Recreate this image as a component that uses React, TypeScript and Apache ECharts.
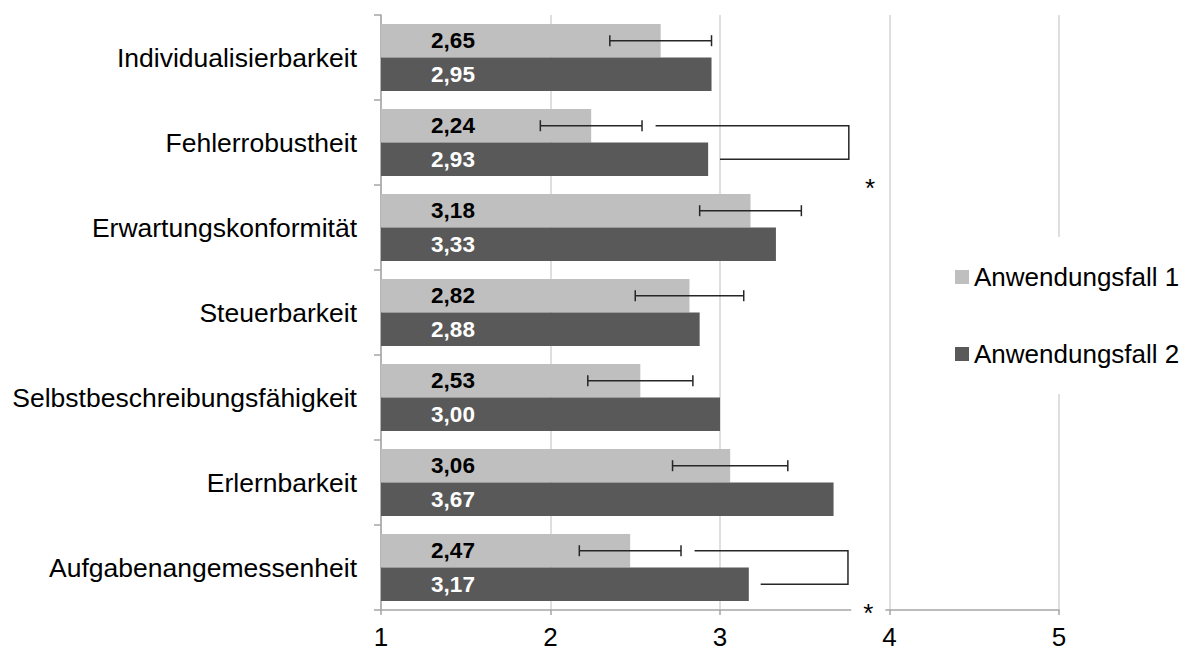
import React, { useEffect, useRef } from "react";
import * as echarts from "echarts";

const categories = [
  "Individualisierbarkeit",
  "Fehlerrobustheit",
  "Erwartungskonformität",
  "Steuerbarkeit",
  "Selbstbeschreibungsfähigkeit",
  "Erlernbarkeit",
  "Aufgabenangemessenheit",
];
const seriesNames = ["Anwendungsfall 1", "Anwendungsfall 2"];
const fall1 = [2.65, 2.24, 3.18, 2.82, 2.53, 3.06, 2.47];
const fall2 = [2.95, 2.93, 3.33, 2.88, 3.0, 3.67, 3.17];
const err1 = [0.3, 0.3, 0.3, 0.32, 0.31, 0.34, 0.3];
const xMin = 1;
const xMax = 5;
const xInterval = 1;

// significance brackets (data units)
const bracketCats = ["Fehlerrobustheit", "Aufgabenangemessenheit"];
const bracketTopStart = [2.62, 2.85];
const bracketBottomStart = [3.0, 3.24];
const bracketRight = [3.76, 3.755];
const starX = [3.885, 3.875];

const FONT = "'Liberation Sans', Arial, sans-serif";
const GAP_FRAC = 0.21;

const fmt = (v: number) => v.toFixed(2).replace(".", ",");

export default function App() {
  const ref = useRef<HTMLDivElement>(null);
  useEffect(() => {
    if (!ref.current) return;
    const chart = echarts.init(ref.current, undefined, { renderer: "svg" });

    const barOffset = (api: any, which: number) => {
      const band = api.size([0, 1])[1];
      const total = band * (1 - GAP_FRAC);
      return which === 0 ? -total / 4 : total / 4;
    };

    const option: any = {
      animation: false,
      backgroundColor: "#fff",
      grid: { left: 381, right: 135, top: 15, bottom: 42, containLabel: false },
      legend: {
        data: seriesNames,
        orient: "vertical",
        left: 945,
        top: 237,
        padding: [27, 10, 27, 10],
        itemGap: 51,
        itemWidth: 14,
        itemHeight: 14,
        icon: "rect",
        backgroundColor: "#fff",
        textStyle: { fontSize: 26, color: "#000", fontFamily: FONT, lineHeight: 26 },
      },
      xAxis: {
        type: "value",
        min: xMin,
        max: xMax,
        interval: xInterval,
        axisLine: { show: true, lineStyle: { color: "#a6a6a6", width: 1.5 } },
        axisTick: { show: true, length: 5, lineStyle: { color: "#a6a6a6", width: 1.5 } },
        axisLabel: { fontSize: 26, color: "#000", fontFamily: FONT, margin: 14 },
        splitLine: { show: true, lineStyle: { color: "#d4d4d4", width: 1.5 } },
      },
      yAxis: {
        type: "category",
        data: categories,
        inverse: true,
        axisLine: { show: true, lineStyle: { color: "#a6a6a6", width: 1.5 } },
        axisTick: { show: true, length: 7, lineStyle: { color: "#a6a6a6", width: 1.5 } },
        axisLabel: { fontSize: 26.5, color: "#000", fontFamily: FONT, margin: 24 },
        splitLine: { show: false },
      },
      series: [
        {
          name: seriesNames[0],
          type: "bar",
          data: fall1,
          barGap: "0%",
          barCategoryGap: GAP_FRAC * 100 + "%",
          itemStyle: { color: "#bfbfbf" },
          label: {
            show: true,
            position: [72, "50%"],
            align: "center",
            verticalAlign: "middle",
            formatter: (p: any) => fmt(p.value),
            fontSize: 22.5,
            fontWeight: "bold",
            color: "#000",
            fontFamily: FONT,
          },
          z: 2,
        },
        {
          name: seriesNames[1],
          type: "bar",
          data: fall2,
          barGap: "0%",
          barCategoryGap: GAP_FRAC * 100 + "%",
          itemStyle: { color: "#595959" },
          label: {
            show: true,
            position: [72, "50%"],
            align: "center",
            verticalAlign: "middle",
            formatter: (p: any) => fmt(p.value),
            fontSize: 22.5,
            fontWeight: "bold",
            color: "#fff",
            fontFamily: FONT,
          },
          z: 2,
        },
        {
          name: "errorbars",
          type: "custom",
          data: fall1.map((v, i) => [v - err1[i], v + err1[i], i]),
          encode: { x: [0, 1], y: 2 },
          z: 5,
          silent: true,
          renderItem: (params: any, api: any) => {
            const lo = api.coord([api.value(0), api.value(2)]);
            const hi = api.coord([api.value(1), api.value(2)]);
            const y = lo[1] + barOffset(api, 0);
            const cap = 5.5;
            const st = { stroke: "#262626", lineWidth: 1.5 };
            return {
              type: "group",
              children: [
                { type: "line", shape: { x1: lo[0], y1: y, x2: hi[0], y2: y }, style: st },
                { type: "line", shape: { x1: lo[0], y1: y - cap, x2: lo[0], y2: y + cap }, style: st },
                { type: "line", shape: { x1: hi[0], y1: y - cap, x2: hi[0], y2: y + cap }, style: st },
              ],
            };
          },
        },
        {
          name: "brackets",
          type: "custom",
          data: bracketCats.map((c, i) => [
            bracketTopStart[i],
            bracketBottomStart[i],
            bracketRight[i],
            categories.indexOf(c),
          ]),
          encode: { x: [0, 1, 2], y: 3 },
          z: 5,
          silent: true,
          renderItem: (params: any, api: any) => {
            const cat = api.value(3);
            const a = api.coord([api.value(0), cat]);
            const b = api.coord([api.value(1), cat]);
            const r = api.coord([api.value(2), cat]);
            const yT = a[1] + barOffset(api, 0);
            const yB = a[1] + barOffset(api, 1);
            return {
              type: "polyline",
              shape: {
                points: [
                  [a[0], yT],
                  [r[0], yT],
                  [r[0], yB],
                  [b[0], yB],
                ],
              },
              style: { stroke: "#262626", lineWidth: 1.5, fill: null },
            };
          },
        },
        {
          name: "stars",
          type: "custom",
          data: bracketCats.map((c, i) => [starX[i], categories.indexOf(c)]),
          encode: { x: 0, y: 1 },
          z: 6,
          silent: true,
          renderItem: (params: any, api: any) => {
            const p = api.coord([api.value(0), api.value(1)]);
            const band = api.size([0, 1])[1];
            return {
              type: "text",
              x: p[0],
              y: p[1] + band / 2 + 3,
              style: {
                text: "*",
                fontSize: 26,
                fontFamily: FONT,
                fill: "#000",
                align: "center",
                verticalAlign: "middle",
                backgroundColor: "#fff",
                padding: [0, 12, 0, 12],
              },
            };
          },
        },
      ],
    };
    chart.setOption(option);
    return () => chart.dispose();
  }, []);
  return (
    <div
      ref={ref}
      style={{ position: "fixed", left: 0, top: 0, width: 1194, height: 652, background: "#fff" }}
    />
  );
}
